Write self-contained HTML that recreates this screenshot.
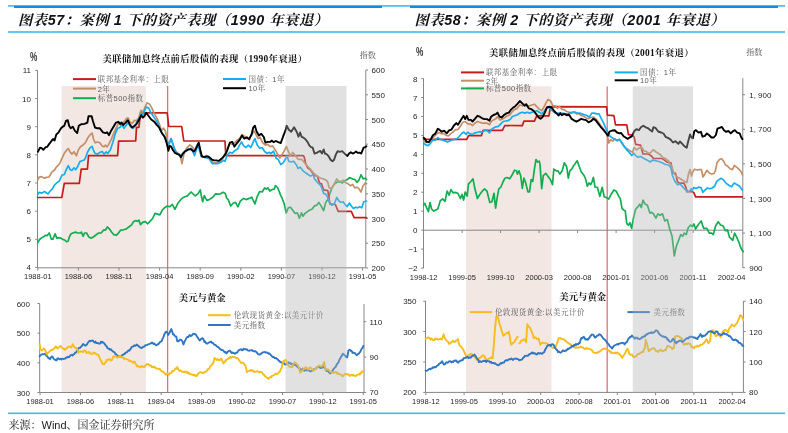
<!DOCTYPE html>
<html><head><meta charset="utf-8"><title>案例资产表现</title>
<style>html,body{margin:0;padding:0;background:#fff;}body{width:788px;height:433px;overflow:hidden;}svg{display:block;}</style>
</head><body>
<svg width="788" height="433" viewBox="0 0 788 433">
<rect x="0" y="0" width="788" height="433" fill="#FFFFFF"/>
<rect x="8" y="5.1" width="777" height="1.6" fill="#3DB8F2"/>
<rect x="14" y="5.9" width="368" height="2.1" fill="#0B8FE2"/>
<rect x="410" y="5.9" width="368" height="2.1" fill="#0B8FE2"/>
<rect x="8" y="31.2" width="777" height="1.6" fill="#3DB8F2"/>
<rect x="8" y="412.5" width="777" height="1.6" fill="#3DB8F2"/>
<text x="18" y="24.6" style="font-family:'Liberation Sans','Noto Serif CJK SC',serif;font-weight:bold;font-style:italic;font-size:14.3px;letter-spacing:0.55px" fill="#111">图表57：案例 1 下的资产表现（1990 年衰退）</text>
<text x="414.5" y="24.6" style="font-family:'Liberation Sans','Noto Serif CJK SC',serif;font-weight:bold;font-style:italic;font-size:14.3px;letter-spacing:0.55px" fill="#111">图表58：案例 2 下的资产表现（2001 年衰退）</text>
<text x="8.5" y="429.3" style="font-family:'Liberation Sans','Noto Serif CJK SC',serif;font-size:11px" fill="#222">来源：Wind、国金证券研究所</text>
<rect x="61.5" y="86" width="84.3" height="306.5" fill="#F2E7E2"/>
<rect x="466" y="86.3" width="85.5" height="306.1" fill="#F2E7E2"/>
<line x1="167.6" y1="86" x2="167.6" y2="392.5" stroke="#E0707C" stroke-width="1.3"/>
<line x1="607.2" y1="86.4" x2="607.2" y2="392.4" stroke="#E0707C" stroke-width="1.3"/>
<line x1="37.5" y1="70.2" x2="37.5" y2="267.8" stroke="#868686" stroke-width="1"/>
<line x1="35.2" y1="70.4" x2="37.5" y2="70.4" stroke="#868686" stroke-width="1"/>
<text x="31" y="73.4" text-anchor="end" style="font-family:'Liberation Sans',sans-serif;font-size:8px" fill="#262626">11</text>
<line x1="35.2" y1="98.6" x2="37.5" y2="98.6" stroke="#868686" stroke-width="1"/>
<text x="31" y="101.55000000000001" text-anchor="end" style="font-family:'Liberation Sans',sans-serif;font-size:8px" fill="#262626">10</text>
<line x1="35.2" y1="126.7" x2="37.5" y2="126.7" stroke="#868686" stroke-width="1"/>
<text x="31" y="129.7" text-anchor="end" style="font-family:'Liberation Sans',sans-serif;font-size:8px" fill="#262626">9</text>
<line x1="35.2" y1="154.8" x2="37.5" y2="154.8" stroke="#868686" stroke-width="1"/>
<text x="31" y="157.85" text-anchor="end" style="font-family:'Liberation Sans',sans-serif;font-size:8px" fill="#262626">8</text>
<line x1="35.2" y1="183.0" x2="37.5" y2="183.0" stroke="#868686" stroke-width="1"/>
<text x="31" y="186.0" text-anchor="end" style="font-family:'Liberation Sans',sans-serif;font-size:8px" fill="#262626">7</text>
<line x1="35.2" y1="211.2" x2="37.5" y2="211.2" stroke="#868686" stroke-width="1"/>
<text x="31" y="214.15" text-anchor="end" style="font-family:'Liberation Sans',sans-serif;font-size:8px" fill="#262626">6</text>
<line x1="35.2" y1="239.3" x2="37.5" y2="239.3" stroke="#868686" stroke-width="1"/>
<text x="31" y="242.29999999999998" text-anchor="end" style="font-family:'Liberation Sans',sans-serif;font-size:8px" fill="#262626">5</text>
<line x1="35.2" y1="267.4" x2="37.5" y2="267.4" stroke="#868686" stroke-width="1"/>
<text x="31" y="270.45" text-anchor="end" style="font-family:'Liberation Sans',sans-serif;font-size:8px" fill="#262626">4</text>
<line x1="365.8" y1="70" x2="365.8" y2="268" stroke="#868686" stroke-width="1"/>
<line x1="365.8" y1="70.0" x2="368" y2="70.0" stroke="#868686" stroke-width="1"/>
<text x="371.5" y="73.0" text-anchor="start" style="font-family:'Liberation Sans',sans-serif;font-size:8px" fill="#262626">600</text>
<line x1="365.8" y1="94.8" x2="368" y2="94.8" stroke="#868686" stroke-width="1"/>
<text x="371.5" y="97.75" text-anchor="start" style="font-family:'Liberation Sans',sans-serif;font-size:8px" fill="#262626">550</text>
<line x1="365.8" y1="119.5" x2="368" y2="119.5" stroke="#868686" stroke-width="1"/>
<text x="371.5" y="122.5" text-anchor="start" style="font-family:'Liberation Sans',sans-serif;font-size:8px" fill="#262626">500</text>
<line x1="365.8" y1="144.2" x2="368" y2="144.2" stroke="#868686" stroke-width="1"/>
<text x="371.5" y="147.25" text-anchor="start" style="font-family:'Liberation Sans',sans-serif;font-size:8px" fill="#262626">450</text>
<line x1="365.8" y1="169.0" x2="368" y2="169.0" stroke="#868686" stroke-width="1"/>
<text x="371.5" y="172.0" text-anchor="start" style="font-family:'Liberation Sans',sans-serif;font-size:8px" fill="#262626">400</text>
<line x1="365.8" y1="193.8" x2="368" y2="193.8" stroke="#868686" stroke-width="1"/>
<text x="371.5" y="196.75" text-anchor="start" style="font-family:'Liberation Sans',sans-serif;font-size:8px" fill="#262626">350</text>
<line x1="365.8" y1="218.5" x2="368" y2="218.5" stroke="#868686" stroke-width="1"/>
<text x="371.5" y="221.5" text-anchor="start" style="font-family:'Liberation Sans',sans-serif;font-size:8px" fill="#262626">300</text>
<line x1="365.8" y1="243.2" x2="368" y2="243.2" stroke="#868686" stroke-width="1"/>
<text x="371.5" y="246.25" text-anchor="start" style="font-family:'Liberation Sans',sans-serif;font-size:8px" fill="#262626">250</text>
<line x1="365.8" y1="268.0" x2="368" y2="268.0" stroke="#868686" stroke-width="1"/>
<text x="371.5" y="271.0" text-anchor="start" style="font-family:'Liberation Sans',sans-serif;font-size:8px" fill="#262626">200</text>
<line x1="37.5" y1="267.8" x2="365.8" y2="267.8" stroke="#868686" stroke-width="1"/>
<line x1="37.8" y1="267.8" x2="37.8" y2="270.6" stroke="#868686" stroke-width="1"/>
<text x="37.8" y="279.0" text-anchor="middle" style="font-family:'Liberation Sans',sans-serif;font-size:7.5px" fill="#262626">1988-01</text>
<line x1="78.4" y1="267.8" x2="78.4" y2="270.6" stroke="#868686" stroke-width="1"/>
<text x="78.4" y="279.0" text-anchor="middle" style="font-family:'Liberation Sans',sans-serif;font-size:7.5px" fill="#262626">1988-06</text>
<line x1="119.0" y1="267.8" x2="119.0" y2="270.6" stroke="#868686" stroke-width="1"/>
<text x="119.0" y="279.0" text-anchor="middle" style="font-family:'Liberation Sans',sans-serif;font-size:7.5px" fill="#262626">1988-11</text>
<line x1="159.6" y1="267.8" x2="159.6" y2="270.6" stroke="#868686" stroke-width="1"/>
<text x="159.6" y="279.0" text-anchor="middle" style="font-family:'Liberation Sans',sans-serif;font-size:7.5px" fill="#262626">1989-04</text>
<line x1="200.2" y1="267.8" x2="200.2" y2="270.6" stroke="#868686" stroke-width="1"/>
<text x="200.2" y="279.0" text-anchor="middle" style="font-family:'Liberation Sans',sans-serif;font-size:7.5px" fill="#262626">1989-09</text>
<line x1="240.8" y1="267.8" x2="240.8" y2="270.6" stroke="#868686" stroke-width="1"/>
<text x="240.8" y="279.0" text-anchor="middle" style="font-family:'Liberation Sans',sans-serif;font-size:7.5px" fill="#262626">1990-02</text>
<line x1="281.4" y1="267.8" x2="281.4" y2="270.6" stroke="#868686" stroke-width="1"/>
<text x="281.4" y="279.0" text-anchor="middle" style="font-family:'Liberation Sans',sans-serif;font-size:7.5px" fill="#262626">1990-07</text>
<line x1="322.0" y1="267.8" x2="322.0" y2="270.6" stroke="#868686" stroke-width="1"/>
<text x="322.0" y="279.0" text-anchor="middle" style="font-family:'Liberation Sans',sans-serif;font-size:7.5px" fill="#262626">1990-12</text>
<line x1="362.6" y1="267.8" x2="362.6" y2="270.6" stroke="#868686" stroke-width="1"/>
<text x="362.6" y="279.0" text-anchor="middle" style="font-family:'Liberation Sans',sans-serif;font-size:7.5px" fill="#262626">1991-05</text>
<text transform="translate(30,61.3) scale(0.66,1)" style="font-family:'Liberation Sans',sans-serif;font-weight:bold;font-size:12.5px" fill="#3a3a3a">%</text>
<text x="359.8" y="57.8" text-anchor="start" style="font-family:'Liberation Sans','Noto Serif CJK SC',serif;font-size:8px" fill="#555">指数</text>
<text x="205" y="61.8" text-anchor="middle" style="font-family:'Liberation Serif','Noto Serif CJK SC',serif;font-weight:bold;font-size:9.4px" fill="#111" letter-spacing="0.35">美联储加息终点前后股债的表现（1990年衰退）</text>
<line x1="73" y1="79.1" x2="96" y2="79.1" stroke="#C81C1C" stroke-width="2"/>
<line x1="73" y1="88.6" x2="96" y2="88.6" stroke="#C48F68" stroke-width="2"/>
<line x1="73" y1="98.2" x2="96" y2="98.2" stroke="#10AE50" stroke-width="2"/>
<line x1="223" y1="79" x2="246" y2="79" stroke="#14AEEF" stroke-width="2"/>
<line x1="223" y1="88.2" x2="246" y2="88.2" stroke="#000000" stroke-width="2"/>
<text x="97.7" y="82" text-anchor="start" style="font-family:'Liberation Sans','Noto Serif CJK SC',serif;font-size:7.5px" fill="#5a5a5a" letter-spacing="0.45">联邦基金利率：上限</text>
<text x="97.7" y="91.5" text-anchor="start" style="font-family:'Liberation Sans','Noto Serif CJK SC',serif;font-size:7.5px" fill="#5a5a5a" letter-spacing="0.45">2年</text>
<text x="97.7" y="101.1" text-anchor="start" style="font-family:'Liberation Sans','Noto Serif CJK SC',serif;font-size:7.5px" fill="#5a5a5a" letter-spacing="0.45">标普500指数</text>
<text x="248.5" y="81.9" text-anchor="start" style="font-family:'Liberation Sans','Noto Serif CJK SC',serif;font-size:7.5px" fill="#5a5a5a" letter-spacing="0.45">国债：1年</text>
<text x="248.5" y="91.1" text-anchor="start" style="font-family:'Liberation Sans','Noto Serif CJK SC',serif;font-size:7.5px" fill="#5a5a5a" letter-spacing="0.45">10年</text>
<line x1="39.7" y1="303.5" x2="39.7" y2="392.5" stroke="#868686" stroke-width="1"/>
<line x1="37.4" y1="303.5" x2="39.7" y2="303.5" stroke="#868686" stroke-width="1"/>
<text x="30" y="306.5" text-anchor="end" style="font-family:'Liberation Sans',sans-serif;font-size:8px" fill="#262626">600</text>
<line x1="37.4" y1="333.2" x2="39.7" y2="333.2" stroke="#868686" stroke-width="1"/>
<text x="30" y="336.17" text-anchor="end" style="font-family:'Liberation Sans',sans-serif;font-size:8px" fill="#262626">500</text>
<line x1="37.4" y1="362.8" x2="39.7" y2="362.8" stroke="#868686" stroke-width="1"/>
<text x="30" y="365.84000000000003" text-anchor="end" style="font-family:'Liberation Sans',sans-serif;font-size:8px" fill="#262626">400</text>
<line x1="37.4" y1="392.5" x2="39.7" y2="392.5" stroke="#868686" stroke-width="1"/>
<text x="30" y="395.51" text-anchor="end" style="font-family:'Liberation Sans',sans-serif;font-size:8px" fill="#262626">300</text>
<line x1="364" y1="304" x2="364" y2="392.5" stroke="#868686" stroke-width="1"/>
<line x1="364" y1="321.7" x2="366.3" y2="321.7" stroke="#868686" stroke-width="1"/>
<text x="369.5" y="324.7" text-anchor="start" style="font-family:'Liberation Sans',sans-serif;font-size:8px" fill="#262626">110</text>
<line x1="364" y1="357.1" x2="366.3" y2="357.1" stroke="#868686" stroke-width="1"/>
<text x="369.5" y="360.05" text-anchor="start" style="font-family:'Liberation Sans',sans-serif;font-size:8px" fill="#262626">90</text>
<line x1="364" y1="392.4" x2="366.3" y2="392.4" stroke="#868686" stroke-width="1"/>
<text x="369.5" y="395.4" text-anchor="start" style="font-family:'Liberation Sans',sans-serif;font-size:8px" fill="#262626">70</text>
<line x1="39.7" y1="392.5" x2="364" y2="392.5" stroke="#868686" stroke-width="1"/>
<line x1="40.0" y1="392.5" x2="40.0" y2="395.2" stroke="#868686" stroke-width="1"/>
<text x="40.0" y="403.9" text-anchor="middle" style="font-family:'Liberation Sans',sans-serif;font-size:7.5px" fill="#262626">1988-01</text>
<line x1="80.4" y1="392.5" x2="80.4" y2="395.2" stroke="#868686" stroke-width="1"/>
<text x="80.4" y="403.9" text-anchor="middle" style="font-family:'Liberation Sans',sans-serif;font-size:7.5px" fill="#262626">1988-06</text>
<line x1="120.8" y1="392.5" x2="120.8" y2="395.2" stroke="#868686" stroke-width="1"/>
<text x="120.8" y="403.9" text-anchor="middle" style="font-family:'Liberation Sans',sans-serif;font-size:7.5px" fill="#262626">1988-11</text>
<line x1="161.2" y1="392.5" x2="161.2" y2="395.2" stroke="#868686" stroke-width="1"/>
<text x="161.2" y="403.9" text-anchor="middle" style="font-family:'Liberation Sans',sans-serif;font-size:7.5px" fill="#262626">1989-04</text>
<line x1="201.6" y1="392.5" x2="201.6" y2="395.2" stroke="#868686" stroke-width="1"/>
<text x="201.6" y="403.9" text-anchor="middle" style="font-family:'Liberation Sans',sans-serif;font-size:7.5px" fill="#262626">1989-09</text>
<line x1="242.0" y1="392.5" x2="242.0" y2="395.2" stroke="#868686" stroke-width="1"/>
<text x="242.0" y="403.9" text-anchor="middle" style="font-family:'Liberation Sans',sans-serif;font-size:7.5px" fill="#262626">1990-02</text>
<line x1="282.4" y1="392.5" x2="282.4" y2="395.2" stroke="#868686" stroke-width="1"/>
<text x="282.4" y="403.9" text-anchor="middle" style="font-family:'Liberation Sans',sans-serif;font-size:7.5px" fill="#262626">1990-07</text>
<line x1="322.8" y1="392.5" x2="322.8" y2="395.2" stroke="#868686" stroke-width="1"/>
<text x="322.8" y="403.9" text-anchor="middle" style="font-family:'Liberation Sans',sans-serif;font-size:7.5px" fill="#262626">1990-12</text>
<line x1="363.2" y1="392.5" x2="363.2" y2="395.2" stroke="#868686" stroke-width="1"/>
<text x="363.2" y="403.9" text-anchor="middle" style="font-family:'Liberation Sans',sans-serif;font-size:7.5px" fill="#262626">1991-05</text>
<text x="202.2" y="301.2" text-anchor="middle" style="font-family:'Liberation Serif','Noto Serif CJK SC',serif;font-weight:bold;font-size:9.4px" fill="#111">美元与黄金</text>
<line x1="208" y1="315.2" x2="230.7" y2="315.2" stroke="#F7BC1E" stroke-width="2"/>
<line x1="208" y1="325" x2="230.7" y2="325" stroke="#2F76C4" stroke-width="2"/>
<text x="233.7" y="318" text-anchor="start" style="font-family:'Liberation Sans','Noto Serif CJK SC',serif;font-size:7.5px" fill="#5a5a5a" letter-spacing="0.45">伦敦现货黄金:以美元计价</text>
<text x="233.7" y="327.8" text-anchor="start" style="font-family:'Liberation Sans','Noto Serif CJK SC',serif;font-size:7.5px" fill="#5a5a5a" letter-spacing="0.45">美元指数</text>
<line x1="423.5" y1="78.4" x2="423.5" y2="268.4" stroke="#868686" stroke-width="1"/>
<line x1="421.2" y1="78.6" x2="423.5" y2="78.6" stroke="#868686" stroke-width="1"/>
<text x="417.5" y="81.6" text-anchor="end" style="font-family:'Liberation Sans',sans-serif;font-size:8px" fill="#262626">8</text>
<line x1="421.2" y1="97.5" x2="423.5" y2="97.5" stroke="#868686" stroke-width="1"/>
<text x="417.5" y="100.53999999999999" text-anchor="end" style="font-family:'Liberation Sans',sans-serif;font-size:8px" fill="#262626">7</text>
<line x1="421.2" y1="116.5" x2="423.5" y2="116.5" stroke="#868686" stroke-width="1"/>
<text x="417.5" y="119.47999999999999" text-anchor="end" style="font-family:'Liberation Sans',sans-serif;font-size:8px" fill="#262626">6</text>
<line x1="421.2" y1="135.4" x2="423.5" y2="135.4" stroke="#868686" stroke-width="1"/>
<text x="417.5" y="138.42000000000002" text-anchor="end" style="font-family:'Liberation Sans',sans-serif;font-size:8px" fill="#262626">5</text>
<line x1="421.2" y1="154.4" x2="423.5" y2="154.4" stroke="#868686" stroke-width="1"/>
<text x="417.5" y="157.36" text-anchor="end" style="font-family:'Liberation Sans',sans-serif;font-size:8px" fill="#262626">4</text>
<line x1="421.2" y1="173.3" x2="423.5" y2="173.3" stroke="#868686" stroke-width="1"/>
<text x="417.5" y="176.3" text-anchor="end" style="font-family:'Liberation Sans',sans-serif;font-size:8px" fill="#262626">3</text>
<line x1="421.2" y1="192.2" x2="423.5" y2="192.2" stroke="#868686" stroke-width="1"/>
<text x="417.5" y="195.24" text-anchor="end" style="font-family:'Liberation Sans',sans-serif;font-size:8px" fill="#262626">2</text>
<line x1="421.2" y1="211.2" x2="423.5" y2="211.2" stroke="#868686" stroke-width="1"/>
<text x="417.5" y="214.18" text-anchor="end" style="font-family:'Liberation Sans',sans-serif;font-size:8px" fill="#262626">1</text>
<line x1="421.2" y1="230.1" x2="423.5" y2="230.1" stroke="#868686" stroke-width="1"/>
<text x="417.5" y="233.12" text-anchor="end" style="font-family:'Liberation Sans',sans-serif;font-size:8px" fill="#262626">0</text>
<line x1="421.2" y1="249.1" x2="423.5" y2="249.1" stroke="#868686" stroke-width="1"/>
<text x="417.5" y="252.06" text-anchor="end" style="font-family:'Liberation Sans',sans-serif;font-size:8px" fill="#262626">−1</text>
<line x1="421.2" y1="268.0" x2="423.5" y2="268.0" stroke="#868686" stroke-width="1"/>
<text x="417.5" y="271.0" text-anchor="end" style="font-family:'Liberation Sans',sans-serif;font-size:8px" fill="#262626">−2</text>
<line x1="742.8" y1="78.2" x2="742.8" y2="267.8" stroke="#868686" stroke-width="1"/>
<line x1="742.8" y1="94.7" x2="745" y2="94.7" stroke="#868686" stroke-width="1"/>
<text x="749.2" y="97.7" text-anchor="start" style="font-family:'Liberation Sans',sans-serif;font-size:8px" fill="#262626">1, 900</text>
<line x1="742.8" y1="129.3" x2="745" y2="129.3" stroke="#868686" stroke-width="1"/>
<text x="749.2" y="132.3" text-anchor="start" style="font-family:'Liberation Sans',sans-serif;font-size:8px" fill="#262626">1, 700</text>
<line x1="742.8" y1="163.9" x2="745" y2="163.9" stroke="#868686" stroke-width="1"/>
<text x="749.2" y="166.9" text-anchor="start" style="font-family:'Liberation Sans',sans-serif;font-size:8px" fill="#262626">1, 500</text>
<line x1="742.8" y1="198.5" x2="745" y2="198.5" stroke="#868686" stroke-width="1"/>
<text x="749.2" y="201.5" text-anchor="start" style="font-family:'Liberation Sans',sans-serif;font-size:8px" fill="#262626">1, 300</text>
<line x1="742.8" y1="233.1" x2="745" y2="233.1" stroke="#868686" stroke-width="1"/>
<text x="749.2" y="236.10000000000002" text-anchor="start" style="font-family:'Liberation Sans',sans-serif;font-size:8px" fill="#262626">1, 100</text>
<line x1="742.8" y1="267.7" x2="745" y2="267.7" stroke="#868686" stroke-width="1"/>
<text x="749.2" y="270.7" text-anchor="start" style="font-family:'Liberation Sans',sans-serif;font-size:8px" fill="#262626">900</text>
<line x1="423.5" y1="230.2" x2="742.8" y2="230.2" stroke="#868686" stroke-width="1"/>
<line x1="423.6" y1="230.2" x2="423.6" y2="233" stroke="#868686" stroke-width="1"/>
<text x="423.6" y="279.8" text-anchor="middle" style="font-family:'Liberation Sans',sans-serif;font-size:7.5px" fill="#262626">1998-12</text>
<line x1="462.1" y1="230.2" x2="462.1" y2="233" stroke="#868686" stroke-width="1"/>
<text x="462.1" y="279.8" text-anchor="middle" style="font-family:'Liberation Sans',sans-serif;font-size:7.5px" fill="#262626">1999-05</text>
<line x1="500.6" y1="230.2" x2="500.6" y2="233" stroke="#868686" stroke-width="1"/>
<text x="500.6" y="279.8" text-anchor="middle" style="font-family:'Liberation Sans',sans-serif;font-size:7.5px" fill="#262626">1999-10</text>
<line x1="539.1" y1="230.2" x2="539.1" y2="233" stroke="#868686" stroke-width="1"/>
<text x="539.1" y="279.8" text-anchor="middle" style="font-family:'Liberation Sans',sans-serif;font-size:7.5px" fill="#262626">2000-03</text>
<line x1="577.6" y1="230.2" x2="577.6" y2="233" stroke="#868686" stroke-width="1"/>
<text x="577.6" y="279.8" text-anchor="middle" style="font-family:'Liberation Sans',sans-serif;font-size:7.5px" fill="#262626">2000-08</text>
<line x1="616.1" y1="230.2" x2="616.1" y2="233" stroke="#868686" stroke-width="1"/>
<text x="616.1" y="279.8" text-anchor="middle" style="font-family:'Liberation Sans',sans-serif;font-size:7.5px" fill="#262626">2001-01</text>
<line x1="654.6" y1="230.2" x2="654.6" y2="233" stroke="#868686" stroke-width="1"/>
<text x="654.6" y="279.8" text-anchor="middle" style="font-family:'Liberation Sans',sans-serif;font-size:7.5px" fill="#262626">2001-06</text>
<line x1="693.1" y1="230.2" x2="693.1" y2="233" stroke="#868686" stroke-width="1"/>
<text x="693.1" y="279.8" text-anchor="middle" style="font-family:'Liberation Sans',sans-serif;font-size:7.5px" fill="#262626">2001-11</text>
<line x1="731.6" y1="230.2" x2="731.6" y2="233" stroke="#868686" stroke-width="1"/>
<text x="731.6" y="279.8" text-anchor="middle" style="font-family:'Liberation Sans',sans-serif;font-size:7.5px" fill="#262626">2002-04</text>
<text transform="translate(416,55.6) scale(0.66,1)" style="font-family:'Liberation Sans',sans-serif;font-weight:bold;font-size:12.5px" fill="#3a3a3a">%</text>
<text x="746.3" y="55" text-anchor="start" style="font-family:'Liberation Sans','Noto Serif CJK SC',serif;font-size:8px" fill="#555">指数</text>
<text x="591.5" y="56" text-anchor="middle" style="font-family:'Liberation Serif','Noto Serif CJK SC',serif;font-weight:bold;font-size:9.4px" fill="#111" letter-spacing="0.35">美联储加息终点前后股债的表现（2001年衰退）</text>
<line x1="461" y1="72.4" x2="484" y2="72.4" stroke="#C81C1C" stroke-width="2"/>
<line x1="461" y1="80.7" x2="484" y2="80.7" stroke="#C48F68" stroke-width="2"/>
<line x1="461" y1="88.4" x2="484" y2="88.4" stroke="#10AE50" stroke-width="2"/>
<line x1="614.7" y1="72.4" x2="637.8" y2="72.4" stroke="#14AEEF" stroke-width="2"/>
<line x1="614.7" y1="80.3" x2="637.8" y2="80.3" stroke="#000000" stroke-width="2"/>
<text x="485.9" y="75.3" text-anchor="start" style="font-family:'Liberation Sans','Noto Serif CJK SC',serif;font-size:7.5px" fill="#5a5a5a" letter-spacing="0.45">联邦基金利率：上限</text>
<text x="485.9" y="83.6" text-anchor="start" style="font-family:'Liberation Sans','Noto Serif CJK SC',serif;font-size:7.5px" fill="#5a5a5a" letter-spacing="0.45">2年</text>
<text x="485.9" y="91.3" text-anchor="start" style="font-family:'Liberation Sans','Noto Serif CJK SC',serif;font-size:7.5px" fill="#5a5a5a" letter-spacing="0.45">标普500指数</text>
<text x="640" y="75.3" text-anchor="start" style="font-family:'Liberation Sans','Noto Serif CJK SC',serif;font-size:7.5px" fill="#5a5a5a" letter-spacing="0.45">国债：1年</text>
<text x="640" y="83.2" text-anchor="start" style="font-family:'Liberation Sans','Noto Serif CJK SC',serif;font-size:7.5px" fill="#5a5a5a" letter-spacing="0.45">10年</text>
<line x1="425.5" y1="301" x2="425.5" y2="392.4" stroke="#868686" stroke-width="1"/>
<line x1="423.2" y1="301.2" x2="425.5" y2="301.2" stroke="#868686" stroke-width="1"/>
<text x="416.5" y="304.2" text-anchor="end" style="font-family:'Liberation Sans',sans-serif;font-size:8px" fill="#262626">350</text>
<line x1="423.2" y1="331.6" x2="425.5" y2="331.6" stroke="#868686" stroke-width="1"/>
<text x="416.5" y="334.59999999999997" text-anchor="end" style="font-family:'Liberation Sans',sans-serif;font-size:8px" fill="#262626">300</text>
<line x1="423.2" y1="362.0" x2="425.5" y2="362.0" stroke="#868686" stroke-width="1"/>
<text x="416.5" y="365.0" text-anchor="end" style="font-family:'Liberation Sans',sans-serif;font-size:8px" fill="#262626">250</text>
<line x1="423.2" y1="392.4" x2="425.5" y2="392.4" stroke="#868686" stroke-width="1"/>
<text x="416.5" y="395.4" text-anchor="end" style="font-family:'Liberation Sans',sans-serif;font-size:8px" fill="#262626">200</text>
<line x1="743.4" y1="301" x2="743.4" y2="392.4" stroke="#868686" stroke-width="1"/>
<line x1="743.4" y1="301.2" x2="745.7" y2="301.2" stroke="#868686" stroke-width="1"/>
<text x="749" y="304.2" text-anchor="start" style="font-family:'Liberation Sans',sans-serif;font-size:8px" fill="#262626">140</text>
<line x1="743.4" y1="331.6" x2="745.7" y2="331.6" stroke="#868686" stroke-width="1"/>
<text x="749" y="334.59999999999997" text-anchor="start" style="font-family:'Liberation Sans',sans-serif;font-size:8px" fill="#262626">120</text>
<line x1="743.4" y1="362.0" x2="745.7" y2="362.0" stroke="#868686" stroke-width="1"/>
<text x="749" y="365.0" text-anchor="start" style="font-family:'Liberation Sans',sans-serif;font-size:8px" fill="#262626">100</text>
<line x1="743.4" y1="392.4" x2="745.7" y2="392.4" stroke="#868686" stroke-width="1"/>
<text x="749" y="395.4" text-anchor="start" style="font-family:'Liberation Sans',sans-serif;font-size:8px" fill="#262626">80</text>
<line x1="425.5" y1="392.4" x2="743.4" y2="392.4" stroke="#868686" stroke-width="1"/>
<line x1="425.8" y1="392.4" x2="425.8" y2="395.1" stroke="#868686" stroke-width="1"/>
<text x="425.8" y="403.9" text-anchor="middle" style="font-family:'Liberation Sans',sans-serif;font-size:7.5px" fill="#262626">1998-12</text>
<line x1="464.1" y1="392.4" x2="464.1" y2="395.1" stroke="#868686" stroke-width="1"/>
<text x="464.1" y="403.9" text-anchor="middle" style="font-family:'Liberation Sans',sans-serif;font-size:7.5px" fill="#262626">1999-05</text>
<line x1="502.4" y1="392.4" x2="502.4" y2="395.1" stroke="#868686" stroke-width="1"/>
<text x="502.4" y="403.9" text-anchor="middle" style="font-family:'Liberation Sans',sans-serif;font-size:7.5px" fill="#262626">1999-10</text>
<line x1="540.7" y1="392.4" x2="540.7" y2="395.1" stroke="#868686" stroke-width="1"/>
<text x="540.7" y="403.9" text-anchor="middle" style="font-family:'Liberation Sans',sans-serif;font-size:7.5px" fill="#262626">2000-03</text>
<line x1="579.0" y1="392.4" x2="579.0" y2="395.1" stroke="#868686" stroke-width="1"/>
<text x="579.0" y="403.9" text-anchor="middle" style="font-family:'Liberation Sans',sans-serif;font-size:7.5px" fill="#262626">2000-08</text>
<line x1="617.3" y1="392.4" x2="617.3" y2="395.1" stroke="#868686" stroke-width="1"/>
<text x="617.3" y="403.9" text-anchor="middle" style="font-family:'Liberation Sans',sans-serif;font-size:7.5px" fill="#262626">2001-01</text>
<line x1="655.6" y1="392.4" x2="655.6" y2="395.1" stroke="#868686" stroke-width="1"/>
<text x="655.6" y="403.9" text-anchor="middle" style="font-family:'Liberation Sans',sans-serif;font-size:7.5px" fill="#262626">2001-06</text>
<line x1="693.9" y1="392.4" x2="693.9" y2="395.1" stroke="#868686" stroke-width="1"/>
<text x="693.9" y="403.9" text-anchor="middle" style="font-family:'Liberation Sans',sans-serif;font-size:7.5px" fill="#262626">2001-11</text>
<line x1="732.2" y1="392.4" x2="732.2" y2="395.1" stroke="#868686" stroke-width="1"/>
<text x="732.2" y="403.9" text-anchor="middle" style="font-family:'Liberation Sans',sans-serif;font-size:7.5px" fill="#262626">2002-04</text>
<text x="582.8" y="300.1" text-anchor="middle" style="font-family:'Liberation Serif','Noto Serif CJK SC',serif;font-weight:bold;font-size:9.4px" fill="#111">美元与黄金</text>
<line x1="469.8" y1="312.1" x2="492.1" y2="312.1" stroke="#F7BC1E" stroke-width="2"/>
<line x1="627.5" y1="312.1" x2="649.8" y2="312.1" stroke="#2F76C4" stroke-width="2"/>
<text x="494.9" y="315" text-anchor="start" style="font-family:'Liberation Sans','Noto Serif CJK SC',serif;font-size:7.5px" fill="#5a5a5a" letter-spacing="0.45">伦敦现货黄金:以美元计价</text>
<text x="653.5" y="315" text-anchor="start" style="font-family:'Liberation Sans','Noto Serif CJK SC',serif;font-size:7.5px" fill="#5a5a5a" letter-spacing="0.45">美元指数</text>
<polyline points="37.7,242.9 39.5,239.5 42.2,237.4 44.3,236.3 45.7,235.3 47.1,235.7 49.2,233.0 50.1,235.3 51.2,239.1 52.9,239.1 55.1,233.9 56.8,238.1 58.9,237.7 60.9,238.1 63.0,239.5 65.1,240.2 66.5,241.8 68.1,241.3 69.2,237.4 70.6,234.3 72.7,233.0 75.5,232.1 77.6,233.0 80.3,233.0 81.4,232.1 83.1,236.3 84.5,233.0 86.6,233.0 88.6,236.7 90.7,238.1 92.8,237.4 95.6,235.3 98.3,233.2 101.1,233.0 103.9,229.8 105.3,230.2 107.3,227.0 109.4,228.8 111.5,231.9 113.6,234.6 116.3,235.3 118.4,233.2 120.5,230.2 123.3,229.8 126.0,229.1 128.8,227.0 131.6,224.9 133.6,221.5 136.0,220.5 137.3,221.4 138.9,220.1 140.5,224.6 142.9,222.2 145.3,221.7 147.8,223.8 150.2,221.1 152.6,218.5 155.0,213.3 157.5,214.1 159.9,214.9 162.3,210.1 164.7,207.7 167.2,206.0 169.6,206.8 172.3,204.4 174.9,209.3 177.7,203.6 180.1,200.4 182.5,198.0 184.9,196.8 187.4,195.9 189.0,194.2 191.1,192.0 193.0,193.9 195.4,195.9 197.9,193.9 200.3,189.9 201.4,196.3 202.7,201.7 204.3,195.5 206.7,200.4 209.2,199.6 212.4,197.5 215.6,193.9 218.0,194.2 220.5,193.9 222.9,192.3 225.3,193.6 226.6,198.0 228.2,199.6 230.7,206.0 233.1,203.3 235.5,202.3 237.9,206.8 240.3,201.2 243.6,198.4 246.0,199.6 249.2,198.4 251.7,197.2 254.9,203.9 257.3,196.3 259.7,191.5 262.2,192.0 264.6,187.8 266.2,189.1 267.8,187.8 269.9,191.0 272.2,189.4 274.3,189.1 275.4,185.5 277.5,187.5 279.9,193.1 280.0,194.1 282.1,198.2 284.2,203.8 286.2,212.8 288.3,207.9 290.4,207.2 292.5,210.0 295.2,213.5 297.3,212.8 299.4,218.3 301.5,212.8 302.9,216.2 304.9,213.5 307.7,211.4 309.8,210.0 311.9,209.3 314.6,205.9 316.7,205.2 318.8,202.4 321.5,206.6 323.6,210.7 325.7,202.4 327.8,199.6 329.9,193.4 331.9,187.9 334.0,184.4 336.8,182.3 339.6,181.6 342.3,183.0 344.4,180.9 347.2,179.5 349.9,177.5 352.0,178.9 354.8,179.5 356.9,182.3 358.9,180.2 361.0,174.7 363.1,178.9 365.2,178.2 366.6,179.5" fill="none" stroke="#10AE50" stroke-width="1.7" stroke-linejoin="round" stroke-linecap="round"/>
<polyline points="37.6,197.5 61.8,197.5 64.3,183.4 79.3,183.4 81.2,169.2 87.4,169.2 88.5,155.7 117.6,155.7 118.6,141.2 135.7,141.0 136.5,127.3 138.9,127.3 140.5,112.8 167.2,112.8 168.8,126.5 181.7,126.5 183.8,141.0 225.0,141.0 225.8,155.6 303.4,155.6 304.2,157.0 304.2,157.0 305.5,163.0 307.7,167.8 309.8,169.2 314.6,175.4 317.4,176.1 319.5,183.0 321.5,183.7 323.6,189.9 327.8,190.6 329.9,203.8 335.4,204.5 338.2,211.4 351.3,211.4 354.1,217.6 366.5,217.6" fill="none" stroke="#C81C1C" stroke-width="1.7" stroke-linejoin="round" stroke-linecap="round"/>
<polyline points="37.6,180.2 39.2,177.0 41.7,176.6 44.1,178.1 46.5,177.4 48.9,177.0 50.5,174.5 52.2,171.6 54.6,170.0 56.2,167.3 57.8,165.7 59.9,163.2 61.8,158.6 64.3,153.3 66.7,150.1 68.3,148.5 69.9,151.7 71.9,154.1 74.0,151.7 76.4,155.7 78.3,150.1 80.4,146.8 82.8,145.2 85.3,142.8 87.7,138.0 90.1,134.7 92.2,133.1 93.4,138.8 95.0,142.8 97.4,142.0 99.8,142.8 102.2,146.0 103.9,146.8 105.5,145.2 107.1,146.8 108.7,144.4 111.1,139.6 113.5,133.9 116.0,128.3 118.4,123.4 120.0,122.6 121.6,124.2 124.0,121.8 126.5,118.6 128.1,117.8 129.7,121.8 132.1,123.4 134.5,120.2 136.5,120.8 138.9,117.6 141.0,110.3 142.9,112.8 145.3,106.3 147.0,102.8 149.4,103.9 151.8,107.9 154.2,113.6 156.7,117.6 159.1,123.3 161.5,130.5 163.6,128.1 165.5,131.3 167.5,141.0 168.8,145.9 170.7,138.6 172.8,143.5 175.2,150.7 177.7,153.2 180.1,154.8 182.0,163.7 184.1,153.2 186.5,148.3 189.8,144.8 192.2,146.7 194.6,149.9 197.0,145.1 198.7,142.7 201.1,154.8 203.5,157.2 205.9,155.6 208.4,156.1 210.8,159.6 213.2,162.9 216.4,162.5 218.9,162.0 222.1,159.6 225.3,154.0 227.4,148.3 229.8,143.5 232.3,144.3 234.7,142.7 237.1,140.2 239.5,138.6 242.0,134.6 244.4,136.2 246.8,138.6 249.2,137.8 251.7,135.4 253.8,130.9 255.7,133.8 258.1,138.6 260.2,137.3 262.5,142.7 265.4,145.1 267.8,144.3 270.2,146.7 272.7,145.9 275.1,149.9 277.5,154.0 279.9,158.0 282.4,154.0 284.8,149.9 286.4,146.4 288.0,150.7 290.4,155.6 292.9,152.4 295.3,155.6 298.1,159.3 301.6,159.3 306.3,165.0 309.8,168.5 313.2,172.6 315.3,174.7 318.1,176.8 320.9,178.2 323.6,178.9 326.4,180.2 327.8,182.3 329.2,187.9 331.2,188.6 333.3,185.8 335.4,181.6 336.8,178.9 338.9,181.6 340.9,181.6 343.0,180.2 345.1,182.3 347.9,183.7 350.6,185.8 352.7,184.4 354.8,187.9 356.9,187.2 358.9,188.6 361.0,192.0 363.1,185.8 365.2,183.0 366.6,183.7" fill="none" stroke="#C48F68" stroke-width="1.7" stroke-linejoin="round" stroke-linecap="round"/>
<polyline points="37.6,194.7 39.2,192.3 41.7,193.1 43.3,192.3 44.9,191.5 46.5,193.1 48.1,193.9 49.7,191.5 52.2,189.1 54.6,185.0 57.0,182.6 59.4,181.0 61.8,175.3 64.3,174.5 65.9,170.5 68.3,165.7 70.2,169.7 71.9,170.5 74.0,167.8 75.6,169.7 77.7,166.5 79.9,161.6 82.0,160.8 84.1,160.0 85.3,158.2 87.7,151.7 90.1,147.7 92.2,146.5 93.4,150.1 95.0,153.3 97.4,154.1 99.8,152.5 102.2,151.4 103.9,154.1 106.3,152.0 107.9,153.3 110.3,150.1 112.7,142.8 115.2,133.9 117.6,128.3 120.0,127.5 121.6,124.2 124.0,128.3 126.5,125.0 128.1,122.6 130.5,126.7 132.9,128.3 135.4,125.8 136.5,122.5 139.7,117.6 141.3,113.6 142.9,114.4 146.2,107.1 148.6,107.9 151.0,112.8 154.2,117.6 157.5,122.5 160.7,131.3 163.9,135.4 166.3,140.2 168.8,144.3 171.2,138.6 173.6,146.7 176.8,154.0 180.1,155.6 181.7,156.4 184.9,151.5 188.2,149.1 191.4,148.3 194.6,155.6 197.9,144.3 201.1,156.4 204.3,157.2 209.2,158.8 212.4,163.7 217.2,163.7 220.5,162.5 223.7,160.4 225.0,161.2 227.4,154.8 229.8,152.4 232.3,153.2 234.7,150.7 237.6,149.1 239.5,145.1 241.5,141.9 243.6,145.9 246.0,147.5 248.4,145.1 250.8,147.5 253.3,141.9 254.9,138.6 257.3,145.1 259.7,148.3 262.2,147.5 264.6,151.5 267.0,153.2 269.4,152.4 271.0,153.5 273.5,151.2 275.9,158.0 278.3,159.6 280.7,164.5 283.2,162.9 285.6,158.8 287.2,156.4 288.8,161.2 291.2,162.0 293.7,161.2 296.1,164.5 296.6,165.0 298.0,168.5 300.1,167.1 302.2,169.8 304.2,171.9 306.3,173.3 308.4,174.7 310.5,176.1 313.2,174.7 314.6,178.9 316.7,181.6 318.8,183.7 320.9,185.8 322.2,189.2 323.6,193.4 325.7,194.1 327.1,196.2 328.5,199.6 329.9,203.8 331.9,205.2 334.0,204.5 336.8,197.5 338.9,201.0 340.9,202.4 343.0,201.7 345.1,204.5 347.2,206.6 349.3,203.1 351.3,205.9 353.4,208.6 355.5,207.2 357.6,207.9 359.6,206.6 361.7,207.9 363.8,201.7 366.6,201.0" fill="none" stroke="#14AEEF" stroke-width="1.7" stroke-linejoin="round" stroke-linecap="round"/>
<polyline points="37.9,151.7 40.0,147.7 41.7,148.1 43.3,149.8 45.7,147.2 47.3,146.8 48.9,144.4 51.3,141.2 53.0,139.1 54.6,140.4 56.2,134.7 58.6,132.3 61.0,128.3 62.7,126.7 64.3,125.8 65.9,121.0 67.8,120.2 69.1,125.8 70.7,128.3 72.8,126.7 74.8,130.7 77.2,133.1 78.8,125.8 81.2,124.2 84.5,123.9 87.4,122.6 88.5,116.2 91.7,116.2 92.9,121.0 95.0,127.5 97.4,128.3 99.8,128.3 103.0,132.3 105.5,133.1 107.1,132.3 109.0,135.2 111.1,130.7 113.5,126.7 116.0,122.6 118.4,121.8 120.0,123.9 121.6,122.6 123.2,125.0 125.7,122.6 127.8,120.2 129.7,124.2 132.1,127.5 134.5,125.8 136.5,124.1 138.9,120.0 141.3,115.2 142.9,117.6 144.5,116.0 146.2,112.8 148.6,116.0 151.0,119.2 154.2,121.7 156.7,124.9 159.1,127.3 162.3,133.8 164.7,137.0 166.8,143.5 168.4,150.7 169.6,145.9 171.2,146.7 172.8,149.9 175.2,153.2 177.7,154.0 179.3,154.8 180.9,157.2 182.5,154.0 184.9,151.5 188.2,149.6 190.6,149.1 193.8,151.5 195.4,149.9 198.7,142.7 200.3,149.9 201.9,156.4 204.3,157.2 206.7,156.4 209.2,157.2 211.6,159.3 214.0,160.4 216.4,160.4 218.9,160.9 221.3,158.8 223.7,156.4 226.0,153.0 227.4,149.9 229.8,142.7 232.3,141.9 234.4,146.7 236.6,143.5 239.5,140.2 242.0,135.4 244.1,138.6 246.8,137.3 249.2,139.4 251.7,133.8 253.3,127.3 254.9,125.7 256.5,131.3 258.9,135.4 261.3,133.8 263.8,137.0 265.4,142.7 267.8,141.9 270.2,141.9 271.9,140.6 273.5,142.2 275.9,141.0 278.3,142.2 280.7,143.1 283.2,136.2 285.6,130.2 286.7,125.7 288.8,129.7 291.2,131.8 294.1,127.3 296.9,132.2 298.5,136.7 300.1,132.5 301.7,137.0 302.9,137.3 305.2,139.0 307.5,141.9 309.3,145.4 311.0,147.1 312.7,147.7 314.5,153.5 316.8,152.9 318.5,151.8 320.2,150.9 322.0,153.5 323.7,149.4 324.9,153.5 326.6,154.1 328.3,155.8 330.6,159.8 332.4,161.3 334.1,159.8 335.8,154.6 337.6,151.2 339.9,151.8 342.2,151.2 343.9,152.9 345.7,154.6 347.4,156.0 349.1,153.5 350.8,152.3 352.6,153.5 354.3,152.9 356.0,151.4 357.8,152.9 359.5,152.7 361.2,153.5 362.4,150.6 363.6,147.7 365.3,147.1 366.4,146.3" fill="none" stroke="#000000" stroke-width="1.9" stroke-linejoin="round" stroke-linecap="round"/>
<polyline points="423.6,204.9 424.8,203.3 426.5,207.4 428.4,211.7 430.0,202.5 431.6,209.0 433.7,211.1 436.2,209.8 437.8,209.0 440.2,200.9 442.6,198.8 445.0,201.4 447.1,191.2 449.1,195.2 451.0,189.6 453.1,192.8 455.5,192.3 458.0,193.6 460.4,198.5 462.0,194.4 463.6,200.1 465.2,192.0 467.2,196.0 468.5,183.9 470.9,181.5 473.0,178.8 474.9,188.8 477.4,198.5 479.8,194.4 482.2,191.2 484.6,188.8 487.0,191.2 489.8,202.5 491.9,201.7 494.0,193.3 495.6,208.2 497.2,197.7 498.8,188.8 500.8,187.2 503.2,181.5 504.8,178.3 507.2,177.5 509.7,178.8 512.1,175.0 514.5,170.2 516.6,170.8 517.4,174.1 519.0,170.8 520.7,175.7 522.3,188.3 523.9,178.1 525.5,182.2 527.9,191.8 529.5,191.8 531.2,179.7 532.8,181.3 534.4,169.2 536.0,159.5 537.6,162.0 539.2,161.2 540.0,164.4 541.7,188.6 543.3,175.7 545.7,173.3 548.1,176.5 550.5,179.7 552.5,184.6 553.8,169.2 556.2,170.8 557.8,170.8 559.9,174.1 562.2,170.8 564.3,162.8 566.7,166.8 568.3,178.1 569.9,170.8 571.9,168.9 574.0,165.2 577.2,160.8 579.3,166.8 581.2,171.7 583.7,174.9 585.3,178.1 587.4,186.2 589.0,183.0 590.6,184.6 592.2,181.3 593.4,177.3 595.0,187.0 597.4,187.3 599.8,196.4 602.2,187.3 604.2,196.7 606.3,197.5 608.7,199.1 611.5,193.7 613.9,190.0 616.3,191.3 618.7,196.2 620.3,198.6 622.0,208.3 623.6,209.9 625.2,210.7 626.8,223.6 628.4,225.2 630.0,222.8 631.7,228.5 633.3,218.8 635.7,209.1 638.1,206.7 639.7,204.2 641.3,207.5 643.0,200.2 645.1,204.2 647.3,205.0 649.9,213.1 651.8,212.3 653.5,213.9 655.9,218.0 658.0,213.9 660.0,215.3 662.4,213.8 664.8,221.0 667.3,219.4 669.7,229.1 672.1,236.3 674.3,256.0 676.2,246.8 678.6,240.4 680.7,234.7 682.6,236.3 684.2,233.1 686.2,234.7 688.3,227.5 690.7,225.0 692.3,226.7 693.9,223.9 695.5,229.1 698.0,225.0 701.2,221.0 703.6,228.3 706.8,228.3 709.3,233.1 711.7,233.1 713.3,234.7 715.7,225.8 718.2,221.8 720.6,225.0 723.0,225.8 725.4,230.7 727.5,229.9 729.5,237.2 732.7,240.4 734.6,233.1 736.7,237.2 738.8,242.0 740.8,247.7 743.2,251.7" fill="none" stroke="#10AE50" stroke-width="1.7" stroke-linejoin="round" stroke-linecap="round"/>
<polyline points="423.6,139.3 466.8,139.3 468.5,135.6 481.4,135.6 483.0,130.4 502.4,130.4 504.8,125.5 522.3,125.6 523.9,121.2 534.4,121.2 536.8,115.9 548.9,115.9 550.5,106.7 606.6,106.8 607.4,115.2 613.9,115.7 615.5,124.9 626.8,124.9 628.4,134.6 632.5,135.1 634.1,137.0 635.7,144.3 640.5,145.1 643.0,154.0 648.6,154.0 651.8,156.4 653.5,158.5 662.1,158.5 664.5,160.1 667.0,162.1 671.0,162.9 672.6,172.6 675.5,173.4 677.5,181.5 679.1,183.1 683.9,183.1 685.5,186.3 687.2,191.7 692.3,191.7 693.9,192.8 695.6,196.8 742.4,196.8" fill="none" stroke="#C81C1C" stroke-width="1.7" stroke-linejoin="round" stroke-linecap="round"/>
<polyline points="423.6,140.9 426.5,142.5 428.9,142.5 431.3,139.3 433.7,136.8 436.2,134.4 438.6,132.3 441.0,133.6 443.4,133.3 445.8,135.2 448.3,136.0 450.7,133.6 453.1,132.0 455.5,129.6 458.0,129.6 460.4,126.3 462.8,122.3 465.2,121.5 467.7,123.9 470.1,123.9 472.5,125.5 474.9,123.1 477.4,121.5 479.8,122.3 482.2,123.1 484.6,123.1 487.0,123.1 489.5,124.7 491.1,121.5 493.5,119.9 495.9,118.8 497.5,116.7 500.0,119.9 502.4,119.1 504.8,117.5 507.2,115.8 509.7,115.0 512.1,111.8 514.5,109.4 516.9,108.6 519.8,105.0 522.3,105.8 524.7,104.2 527.1,105.8 529.5,105.8 532.0,105.0 534.4,104.2 536.8,106.7 539.2,109.1 541.7,110.7 543.3,108.3 545.7,103.4 548.1,99.4 550.5,101.0 553.0,105.8 555.4,105.8 557.3,108.3 559.4,106.7 561.8,109.1 564.3,109.9 566.7,111.5 569.1,112.3 571.5,113.1 574.0,112.3 576.4,113.9 578.8,113.9 581.2,115.5 583.7,116.3 586.1,118.0 588.5,118.8 590.9,117.5 593.4,117.2 595.8,118.8 598.2,121.7 600.6,125.2 603.0,128.5 605.5,131.7 607.4,134.9 608.7,143.0 610.6,139.8 612.7,141.1 614.7,138.6 617.1,141.0 619.5,139.4 622.0,143.5 624.4,146.7 627.6,149.1 630.0,150.7 632.5,152.4 634.1,147.5 636.5,149.9 638.9,148.3 641.3,146.7 643.8,150.7 646.2,151.5 648.6,153.2 650.5,152.8 653.2,149.8 656.5,152.2 659.7,154.2 662.9,157.6 665.5,158.6 668.6,161.0 671.8,167.0 674.2,174.0 676.7,176.5 679.1,178.1 682.3,179.9 684.7,181.5 686.8,182.5 688.3,174.8 690.0,169.6 691.5,176.0 693.1,171.2 694.6,169.2 696.8,170.0 699.3,169.7 701.4,169.6 703.0,177.0 704.9,174.0 706.9,170.4 709.3,173.0 711.5,174.0 713.8,173.6 715.4,170.8 717.0,162.7 719.5,159.5 721.6,158.7 723.8,161.5 725.5,165.0 727.5,166.0 730.0,168.8 732.4,169.6 734.3,165.5 737.2,167.6 739.7,170.0 741.3,172.2 742.4,175.0" fill="none" stroke="#C48F68" stroke-width="1.7" stroke-linejoin="round" stroke-linecap="round"/>
<polyline points="423.6,143.3 425.7,144.9 428.1,145.7 430.5,143.3 432.9,140.1 435.3,140.1 437.8,137.7 440.2,139.3 442.6,140.1 445.0,140.9 447.5,142.0 449.9,140.9 452.3,139.8 454.7,139.3 457.2,138.5 459.6,136.0 462.0,133.3 463.9,132.0 466.0,134.4 467.7,132.3 470.1,133.9 472.5,134.4 474.9,132.8 477.4,132.3 479.8,131.7 482.2,132.0 484.6,130.4 487.0,130.4 489.5,132.8 491.1,129.6 493.5,128.0 495.9,126.8 498.4,126.3 500.8,123.9 503.2,121.5 505.6,121.0 508.0,120.7 510.5,119.1 512.1,116.7 514.5,115.8 517.4,114.7 519.8,113.1 522.3,112.3 524.7,113.1 527.1,112.3 529.5,113.1 532.0,112.3 534.4,111.5 536.8,110.7 539.2,112.3 541.7,113.9 544.1,111.5 546.5,108.3 548.9,107.5 550.5,109.1 553.0,111.5 555.4,113.1 557.8,113.1 560.2,113.9 562.7,113.1 565.1,113.9 567.5,113.9 569.9,113.1 572.4,112.0 574.8,112.0 577.2,113.1 579.6,113.1 582.0,113.9 584.5,114.7 586.9,115.5 589.3,117.2 591.7,113.1 594.2,113.1 596.6,113.9 599.0,113.9 601.4,118.8 603.9,123.6 605.5,127.7 607.4,131.7 609.5,135.7 611.9,137.5 614.7,139.4 617.1,140.2 619.5,139.4 622.0,142.7 624.4,146.7 626.8,149.9 629.2,152.4 631.7,155.6 633.8,153.2 635.7,155.6 638.1,157.2 640.5,156.4 643.0,158.0 645.4,159.3 647.8,160.4 650.2,162.0 652.4,160.1 655.7,160.7 658.9,161.5 662.1,162.7 665.3,164.5 668.6,165.0 671.0,168.0 672.6,176.0 675.0,181.5 677.5,184.7 679.9,183.9 682.3,186.3 684.7,188.8 687.2,192.0 689.6,191.2 691.2,188.8 692.3,190.4 693.6,187.5 696.0,188.4 698.5,187.2 700.9,187.5 703.0,192.3 704.9,190.1 707.4,188.0 709.8,188.8 712.2,188.0 714.6,186.3 716.6,181.5 718.7,179.9 721.1,178.3 723.5,179.9 725.9,183.1 729.2,185.5 731.6,186.8 734.0,183.1 737.2,184.7 739.7,186.3 741.3,188.8 742.4,190.1" fill="none" stroke="#14AEEF" stroke-width="1.7" stroke-linejoin="round" stroke-linecap="round"/>
<polyline points="423.6,137.7 424.8,138.5 426.5,141.7 428.9,142.0 431.3,138.5 432.9,135.2 435.3,133.6 437.8,128.8 439.4,129.6 441.8,131.7 444.2,130.7 446.7,133.3 449.1,130.4 451.5,129.6 453.9,125.5 456.3,123.1 458.0,124.7 460.4,120.7 463.6,115.8 465.2,119.1 466.8,115.8 468.5,119.9 470.9,119.9 472.5,121.5 474.9,118.8 477.4,115.8 479.8,116.7 482.2,118.3 484.6,119.1 487.0,119.1 489.5,120.7 491.1,116.7 493.5,115.0 495.9,114.2 497.5,112.6 499.5,116.7 501.6,117.5 504.0,115.0 506.4,113.4 508.9,112.6 510.5,110.2 512.9,107.8 515.3,106.2 517.7,103.7 519.8,101.0 522.3,103.4 524.7,105.8 526.3,104.2 528.7,108.3 531.2,109.1 533.6,110.7 536.0,113.9 538.4,117.2 540.5,118.8 542.5,117.2 544.9,112.3 547.0,107.1 549.7,106.7 552.2,108.3 554.6,111.5 557.0,113.9 558.6,115.5 560.2,113.1 561.8,115.2 564.3,113.9 566.7,115.2 569.1,114.7 571.5,118.8 574.0,120.4 576.4,121.7 578.8,120.4 581.2,118.8 583.7,119.6 586.1,120.1 588.5,122.3 590.9,121.2 593.4,118.8 595.8,120.4 598.2,123.6 600.6,126.8 603.0,129.3 605.5,132.5 607.9,135.7 609.5,131.7 612.3,130.5 614.7,130.2 617.1,132.5 619.5,133.4 621.2,133.0 623.6,136.2 625.2,137.3 627.6,138.9 630.0,137.3 632.1,136.2 634.1,131.3 636.5,129.2 638.9,130.2 640.9,127.3 643.4,125.7 645.7,127.3 647.8,128.1 650.2,130.0 652.2,131.5 653.4,127.2 655.8,128.2 658.2,131.5 661.2,132.5 663.5,133.5 665.9,137.2 668.3,138.0 670.6,139.6 673.0,142.5 675.5,141.2 678.3,143.9 679.9,141.5 682.3,143.9 684.5,146.3 686.7,147.8 688.3,140.9 690.0,134.4 691.6,137.6 692.8,138.3 694.4,131.0 696.0,130.2 698.5,132.6 700.9,131.8 702.5,136.7 704.9,135.8 706.9,133.4 709.0,135.0 711.4,137.5 713.8,137.5 715.9,135.0 717.5,128.6 719.5,127.8 721.9,127.0 724.0,130.2 725.9,131.8 728.4,131.0 730.8,133.4 733.2,131.0 734.8,130.2 737.2,132.6 739.7,133.4 741.3,137.5 742.4,139.1" fill="none" stroke="#000000" stroke-width="1.9" stroke-linejoin="round" stroke-linecap="round"/>
<polyline points="39.6,356.3 40.4,355.2 41.2,354.8 42.0,354.3 42.9,354.3 43.7,354.1 44.5,353.8 45.3,354.1 46.1,355.6 46.9,355.9 47.7,356.9 48.5,358.4 49.3,358.2 50.1,359.2 50.9,357.5 51.7,356.5 52.5,356.7 53.3,358.2 54.1,359.3 55.0,359.6 55.8,360.2 56.6,360.3 57.4,358.5 58.2,358.3 59.0,358.9 59.8,359.3 60.6,358.7 61.4,359.5 62.2,358.8 63.0,358.9 63.9,359.0 64.7,358.6 65.5,358.5 66.3,357.4 67.1,357.6 67.9,356.8 68.7,357.2 69.5,356.8 70.3,355.4 71.1,355.1 71.9,354.8 72.7,355.4 73.5,354.3 74.3,354.1 75.1,352.8 76.0,352.3 76.8,351.4 77.6,349.7 78.4,348.4 79.2,347.9 80.0,347.8 80.8,346.9 81.6,346.2 82.4,345.0 83.2,344.0 84.0,344.8 84.8,345.4 85.7,345.5 86.5,344.8 87.3,343.8 88.1,342.4 88.9,341.6 89.7,340.7 90.5,341.3 91.3,340.8 92.1,340.6 92.9,340.5 93.7,341.8 94.5,342.4 95.4,341.6 96.2,343.0 97.0,342.9 97.8,343.0 98.6,343.6 99.4,343.7 100.2,343.3 101.0,341.7 101.8,342.5 102.6,341.9 103.4,342.9 104.2,343.2 105.1,344.7 105.9,345.6 106.7,346.3 107.5,348.2 108.3,348.6 109.1,348.6 109.9,349.7 110.7,349.3 111.5,350.0 112.3,350.8 113.1,351.6 113.9,351.9 114.7,352.5 115.5,354.4 116.3,354.3 117.2,355.8 118.0,356.4 118.8,356.0 119.6,356.4 120.4,356.8 121.2,356.3 122.0,355.5 122.8,354.8 123.6,354.3 124.4,354.2 125.2,353.1 126.0,352.5 126.9,352.3 127.7,351.2 128.5,350.5 129.3,350.7 130.1,349.4 130.9,348.6 131.7,347.0 132.5,346.6 133.3,346.5 134.2,345.4 135.0,345.9 135.8,345.6 136.6,344.6 137.4,345.1 138.2,345.7 139.0,346.7 139.8,347.1 140.6,347.8 141.5,348.1 142.3,347.5 143.1,346.7 143.9,346.7 144.7,346.3 145.5,345.1 146.3,345.1 147.1,345.0 147.9,344.4 148.7,344.2 149.5,343.9 150.3,343.5 151.2,343.4 152.0,342.5 152.8,343.1 153.6,344.0 154.4,343.5 155.2,344.6 156.0,345.3 156.8,345.2 157.6,344.3 158.4,344.4 159.2,343.0 160.0,342.1 160.9,341.5 161.7,341.1 162.5,338.7 163.3,337.4 164.1,335.0 164.9,333.2 165.7,331.9 166.5,331.7 167.3,332.8 168.1,335.0 168.9,333.8 169.7,332.5 170.5,330.7 171.3,329.1 172.2,331.5 173.0,334.4 173.8,334.4 174.6,335.6 175.4,336.4 176.2,336.4 177.3,341.4 178.6,341.2 179.4,340.2 180.2,339.6 181.0,339.8 181.8,340.3 182.7,342.2 183.5,344.5 184.3,342.2 185.1,340.6 185.9,339.1 186.7,337.5 187.5,336.9 188.3,337.1 189.1,335.6 189.9,335.1 190.7,336.0 191.5,335.7 192.3,335.1 193.2,333.7 194.0,333.7 194.8,334.4 195.6,334.1 196.4,335.5 197.2,336.8 198.0,337.8 198.8,339.2 199.6,340.5 200.4,339.8 201.2,338.8 202.1,338.2 202.9,338.5 203.7,339.8 204.5,342.1 205.3,341.6 206.1,343.3 206.9,343.6 207.7,343.3 208.5,342.7 209.3,342.2 210.1,342.1 210.9,341.6 211.7,342.8 212.5,342.7 213.4,343.5 214.2,344.6 215.0,344.9 215.8,345.2 216.6,346.3 217.4,346.6 218.2,347.1 219.0,347.8 219.8,349.1 220.6,349.1 221.4,350.1 222.2,350.0 223.1,350.4 223.9,351.3 224.7,352.3 225.5,352.0 226.3,353.4 227.1,352.7 227.9,351.7 228.7,350.9 230.0,350.7 230.8,352.0 231.6,352.9 232.4,352.4 233.2,353.0 234.0,353.2 234.8,353.8 235.6,353.2 236.5,352.7 237.3,352.6 238.1,350.9 238.9,350.3 239.7,349.7 240.5,349.5 241.3,349.3 242.1,350.3 242.9,350.0 243.7,348.8 244.5,349.2 245.3,349.1 246.2,349.3 247.0,349.5 247.8,350.3 248.6,350.6 249.4,350.7 250.2,350.4 251.0,350.4 251.8,350.0 252.6,350.8 253.4,351.3 254.2,351.1 255.0,351.2 255.9,351.7 256.7,352.3 257.5,353.3 258.3,354.3 259.1,354.4 259.9,354.6 260.7,354.0 261.5,353.3 262.3,352.7 263.1,352.3 263.9,352.1 264.7,351.9 265.5,352.5 266.3,352.4 267.1,352.5 268.0,353.1 268.8,353.7 269.6,353.5 270.4,354.6 271.2,355.3 272.0,356.4 272.8,357.0 273.6,356.8 274.4,358.0 275.2,358.2 276.0,358.0 276.8,358.9 277.7,359.1 278.5,360.6 279.3,360.9 280.1,361.8 280.9,362.2 281.7,362.5 282.5,363.0 283.3,363.2 284.1,363.3 284.9,364.5 285.7,364.5 286.5,364.0 287.4,364.1 288.2,362.5 289.0,362.7 289.8,362.8 290.6,364.0 291.4,363.6 292.2,363.9 293.0,365.5 293.8,364.3 294.6,365.0 295.4,364.5 296.2,365.5 297.1,366.5 297.9,366.8 298.7,368.2 299.5,368.2 300.3,370.2 301.1,369.6 301.9,369.6 302.7,368.6 303.5,370.0 304.3,370.7 305.1,370.1 305.9,370.2 306.7,370.2 307.5,370.3 308.3,370.1 309.2,370.6 310.0,371.2 311.0,371.2 311.9,370.9 312.9,370.0 313.7,369.5 314.5,369.2 315.4,368.7 316.2,368.4 317.0,367.2 317.8,366.9 318.6,366.7 319.4,366.8 320.2,368.0 321.0,368.1 321.8,367.9 322.6,367.2 323.4,366.3 324.2,367.5 325.1,368.7 325.9,370.3 326.7,371.1 327.5,370.7 328.3,371.2 329.1,372.6 329.9,373.3 330.7,373.3 331.5,372.2 332.3,371.5 333.1,369.7 333.9,368.7 334.8,367.6 335.6,367.0 336.4,365.3 337.2,363.8 338.0,363.0 338.8,361.8 339.6,359.3 340.4,358.3 341.2,356.4 342.0,355.5 342.8,353.7 343.6,354.2 344.5,355.1 345.3,355.8 346.2,356.9 347.2,357.3 348.5,350.3 349.3,350.1 350.1,349.7 350.9,351.1 351.7,351.0 352.5,352.9 353.3,352.5 354.2,353.0 355.0,353.1 355.8,354.4 356.6,355.2 357.6,354.4 358.5,353.9 359.6,352.6 360.6,351.2 361.5,349.0 362.5,347.8 363.4,345.9" fill="none" stroke="#2F76C4" stroke-width="1.9" stroke-linejoin="round" stroke-linecap="round"/>
<polyline points="39.6,344.2 40.4,349.6 41.2,349.8 42.0,350.6 42.9,349.5 43.7,348.5 44.5,349.4 45.3,350.4 46.1,352.4 46.9,354.5 47.7,352.9 48.5,352.3 49.3,351.5 50.1,350.8 50.9,350.2 51.7,349.7 52.5,350.0 53.3,349.2 54.1,348.5 55.0,347.8 55.8,346.3 56.6,347.3 57.4,348.5 58.2,347.8 59.0,347.1 59.8,346.3 60.6,345.9 61.4,347.3 62.2,348.0 63.0,348.5 63.9,348.8 64.7,349.9 65.5,348.6 66.3,348.9 67.1,348.0 67.9,347.1 68.7,346.4 69.5,346.7 70.3,346.7 71.1,347.6 71.9,346.1 72.7,344.2 73.8,345.9 74.8,347.9 75.8,348.0 76.8,347.9 77.6,350.0 78.4,352.7 79.2,351.4 80.0,351.2 80.8,351.7 81.6,351.4 82.4,351.9 83.2,352.0 84.0,350.7 84.8,350.5 85.7,351.1 86.5,353.0 87.3,352.4 88.1,352.7 88.9,352.0 89.7,352.6 90.5,353.7 91.3,353.7 92.1,353.7 92.9,353.9 93.7,352.6 94.5,352.8 95.4,353.3 96.2,354.2 97.0,354.6 97.8,354.6 98.6,355.3 99.4,357.1 100.2,359.5 101.2,360.9 102.3,363.6 103.2,364.0 104.2,364.2 105.0,362.8 105.9,362.1 106.7,359.8 107.5,359.6 108.3,359.9 109.1,359.2 109.9,359.2 110.7,360.4 111.5,360.6 112.3,359.2 113.1,356.9 113.9,356.5 114.7,356.5 115.5,355.8 116.3,356.5 117.2,357.7 118.0,357.3 118.8,356.5 119.6,356.1 120.4,355.9 121.2,357.2 122.0,357.3 122.8,357.7 123.6,357.7 124.4,359.2 125.2,358.7 126.0,358.9 126.9,359.1 127.7,359.5 128.5,360.0 129.3,361.1 130.1,360.7 130.9,361.0 131.7,361.9 132.5,362.0 133.3,362.8 134.1,361.6 134.9,362.0 135.7,364.0 136.5,365.1 137.3,366.4 138.2,366.3 139.0,366.6 139.8,367.4 140.6,366.5 141.5,366.7 142.3,366.1 143.1,367.0 143.9,367.0 144.7,366.7 145.5,365.3 146.3,364.8 147.1,364.0 147.9,364.2 148.7,364.5 149.5,365.6 150.3,365.2 151.2,365.6 152.0,367.3 152.8,366.8 153.6,367.3 154.4,366.6 155.2,367.8 156.0,368.0 156.8,368.7 157.6,368.9 158.4,368.8 159.2,368.6 160.0,369.3 160.9,370.7 161.7,371.2 162.5,371.8 163.3,371.6 164.1,372.6 164.9,373.8 165.7,374.7 166.5,374.3 167.3,373.2 168.1,374.1 168.9,374.7 169.7,373.3 170.5,373.3 171.3,372.7 172.2,370.8 173.0,371.3 173.8,370.8 174.6,369.9 175.4,368.5 176.4,368.8 177.3,367.0 178.4,369.7 179.4,370.9 180.2,370.4 181.0,370.8 181.8,371.7 182.6,371.6 183.5,371.8 184.3,372.1 185.1,371.4 185.9,371.5 186.7,372.9 187.5,372.0 188.3,373.4 189.1,372.7 189.9,373.9 190.7,374.1 191.5,374.5 192.3,374.4 193.2,375.2 194.0,374.7 194.8,375.5 195.6,375.2 196.4,376.1 197.2,375.2 198.0,374.0 198.8,373.2 199.6,372.3 200.4,372.1 201.2,372.5 202.0,372.5 202.9,373.1 203.7,372.9 204.5,371.9 205.3,371.8 206.1,371.8 206.9,370.7 207.7,369.3 208.5,369.5 209.3,368.5 210.1,366.4 210.9,366.0 211.7,364.7 212.6,364.1 213.4,362.5 214.5,358.0 215.6,358.8 216.6,360.0 217.4,359.1 218.2,359.4 219.0,360.4 219.8,360.2 220.6,359.1 221.4,358.5 222.4,361.3 223.5,363.5 224.5,361.5 225.5,361.5 226.3,359.8 227.1,359.1 227.9,359.0 228.7,358.1 229.5,358.1 230.3,356.9 231.4,357.8 232.4,356.9 233.2,356.8 234.0,357.3 234.8,357.1 235.6,357.5 236.5,358.2 237.3,358.1 238.1,358.4 238.9,360.0 239.7,361.1 240.5,361.8 241.3,363.0 242.1,362.9 242.9,362.7 243.7,363.2 244.5,364.8 245.3,364.9 246.2,368.6 247.0,372.1 247.8,371.4 248.6,371.2 249.4,370.8 250.2,370.2 251.0,370.7 251.8,369.9 252.6,371.0 253.4,370.7 254.2,372.0 255.0,371.9 255.9,371.6 256.7,371.4 257.5,371.2 258.3,372.1 259.1,371.7 259.9,372.3 260.7,371.8 261.5,371.9 262.3,372.7 263.1,374.4 263.9,374.4 264.7,376.1 265.5,376.2 266.3,377.3 267.4,377.8 268.4,379.0 269.4,377.5 270.4,377.1 271.2,377.2 272.0,375.7 272.8,375.8 273.6,375.1 274.4,374.8 275.2,374.2 276.0,373.6 276.9,374.3 277.7,373.6 278.5,372.8 279.3,371.9 280.1,371.3 280.9,368.7 281.7,367.6 282.5,364.2 283.3,361.1 284.1,361.0 284.9,360.3 285.7,360.0 286.5,361.4 287.4,364.5 288.2,365.3 289.0,366.2 289.8,366.9 290.6,367.1 291.4,366.4 292.2,367.3 293.0,364.9 293.8,363.6 294.6,362.3 295.4,362.9 296.2,363.3 297.0,364.2 297.9,365.4 298.7,366.9 299.5,370.2 300.3,372.9 301.1,371.4 301.9,370.6 302.7,370.3 303.7,368.9 304.7,368.3 305.7,367.1 306.5,367.8 307.3,368.8 308.1,369.6 308.9,368.6 309.7,367.5 310.5,367.5 311.3,368.4 312.1,369.1 312.9,370.3 313.7,370.7 314.6,369.9 315.4,369.0 316.2,368.1 317.0,367.2 317.8,366.4 318.6,366.1 319.4,365.5 320.2,365.9 321.0,366.1 321.8,366.2 322.6,365.6 323.4,363.9 324.2,362.1 325.5,369.9 326.4,368.9 327.4,369.7 328.3,369.5 329.1,370.2 329.9,371.5 330.7,371.4 331.5,372.3 332.3,372.3 333.1,372.8 333.9,372.4 334.8,372.5 335.6,372.0 336.4,372.2 337.2,373.7 338.0,373.0 338.8,374.1 339.6,374.2 340.4,374.5 341.2,374.9 342.0,375.9 342.8,376.3 343.6,375.4 344.5,374.5 345.3,374.0 346.1,374.2 346.9,374.1 347.7,374.2 348.5,374.3 349.3,375.7 350.1,375.8 350.9,375.0 351.7,374.8 352.5,375.5 353.3,374.9 354.2,375.4 355.0,376.0 355.8,376.0 356.6,375.0 357.4,374.9 358.2,374.6 359.0,373.9 359.8,374.7 360.6,372.7 361.4,373.1 362.2,371.2 363.4,371.4" fill="none" stroke="#F7BC1E" stroke-width="1.9" stroke-linejoin="round" stroke-linecap="round"/>
<polyline points="425.6,338.9 426.4,338.4 427.2,337.9 428.0,337.6 428.8,337.4 429.6,338.3 430.5,339.7 431.3,338.4 432.1,338.9 432.9,340.0 433.7,340.2 434.5,340.0 435.3,338.4 436.1,339.0 436.9,338.9 437.7,339.4 438.5,339.6 439.3,339.0 440.1,339.0 441.0,338.8 441.8,339.4 442.8,337.1 443.7,334.3 444.5,337.3 445.3,338.7 446.4,340.6 447.4,341.2 448.2,341.9 449.0,343.8 449.8,343.7 450.6,342.6 451.5,342.5 452.3,341.3 453.1,340.8 453.9,342.0 454.7,341.8 455.5,341.5 456.3,340.4 457.1,340.4 457.9,339.1 458.7,342.5 459.5,345.4 460.3,345.7 461.2,346.9 462.0,347.7 462.8,349.1 463.6,350.5 464.4,352.2 465.4,354.5 466.3,355.6 467.4,356.2 468.4,355.5 469.2,354.8 470.0,354.8 470.8,353.8 471.6,354.0 472.5,354.6 473.3,355.7 474.1,355.6 474.9,357.6 475.7,357.6 476.5,359.7 477.3,359.6 478.1,358.2 478.9,359.0 479.7,357.9 480.6,357.6 481.4,356.4 482.2,355.8 483.0,355.3 483.8,355.7 484.6,356.5 485.4,358.9 486.2,359.4 487.0,359.7 487.8,359.2 488.6,358.7 489.4,358.4 490.2,358.2 491.0,357.3 491.9,358.1 492.7,358.2 493.8,344.6 495.1,327.3 496.4,316.1 497.4,316.3 498.3,318.0 499.1,321.6 499.9,325.2 500.7,326.9 501.5,330.1 502.4,332.8 503.2,335.8 504.0,335.2 504.8,334.5 505.6,333.9 506.4,333.1 507.2,333.0 508.0,333.0 508.8,331.6 509.6,335.7 510.4,341.2 511.2,344.9 512.0,344.0 512.9,343.0 513.7,342.6 514.5,341.8 515.3,340.2 516.1,339.1 516.9,337.4 517.7,336.8" fill="none" stroke="#F7BC1E" stroke-width="1.9" stroke-linejoin="round" stroke-linecap="round"/>
<polyline points="519.3,343.3 520.1,342.9 520.9,340.8 521.7,340.5 522.7,340.5 523.8,339.2 524.8,339.5 526.1,342.3 527.3,324.1 528.1,325.9 528.9,326.6 529.7,327.8 530.5,328.2 531.3,331.2 532.1,332.5 532.9,335.1 533.7,338.2 534.5,337.7 535.3,337.4 536.1,337.9 537.0,339.2 537.8,339.1 538.6,338.4 539.4,341.4 540.2,344.8 541.0,343.5 541.8,342.9 542.6,342.7 543.4,343.1 544.2,343.1 545.0,343.3 545.8,343.4 546.7,343.3 547.5,343.8 548.3,344.7 549.1,345.1 549.9,344.7 550.7,346.1 551.5,346.9 552.3,347.6 553.1,347.8 553.9,348.2 554.7,347.9 555.8,346.4 556.8,343.8 557.8,340.8 558.8,338.0 559.6,338.1 560.4,337.9 561.2,339.0 562.2,339.0 563.3,339.3 564.2,339.4 565.2,340.9 566.0,341.0 566.9,342.2 567.7,342.5 568.5,343.3 569.3,343.6 570.1,344.2 570.9,344.5 571.7,345.8 572.5,346.8 573.3,347.2 574.1,346.8 574.9,347.7 575.7,347.7 576.6,347.3 577.4,347.6 578.2,347.7 579.0,347.2 579.8,347.3 580.6,346.6 581.4,347.2 582.2,347.1 583.0,347.3 583.8,348.3 584.6,349.2 585.4,348.9 586.2,347.9 587.0,348.5 587.8,348.5 588.7,348.8 589.5,348.8 590.3,349.3 591.1,349.8 591.9,349.9 592.7,351.6 593.5,352.4 594.3,352.6 595.1,352.9 595.9,353.2 596.7,352.4 597.6,352.7 598.4,352.4 599.2,351.3 600.0,351.6 600.8,350.9 601.6,349.9 602.4,349.2 603.2,348.7 604.0,348.6 604.8,348.7 605.6,348.6 606.4,349.3 607.2,349.4 608.0,349.8 608.8,350.7 609.7,351.0 610.5,352.7 611.3,352.0 612.1,352.9 612.9,353.1 614.0,353.1 615.0,352.5 615.8,353.4 616.6,352.8 617.4,352.4 618.2,353.7 619.0,353.5 619.8,354.7 620.6,355.3 621.5,356.5 622.3,357.9 623.1,356.5 623.9,354.9 624.7,354.2 625.5,352.3 626.3,350.3 627.1,349.2 627.9,349.0 628.7,351.4 629.5,354.4 630.3,354.7 631.2,354.5 632.0,354.4 633.0,356.7 634.1,357.2 635.0,356.5 636.0,356.3 636.8,355.5 637.6,354.1 638.4,354.0 639.2,354.0 640.0,353.1 640.8,352.9 641.6,352.1 642.5,351.6 643.3,351.9 644.1,349.1 644.9,347.9 645.7,339.7 646.5,342.2 647.3,344.6 648.1,348.7 648.9,351.3 649.7,350.4 650.5,349.5 651.3,349.5 652.1,348.6 653.0,348.1 653.8,348.1 654.6,348.7 655.4,350.4 656.2,351.2 657.0,351.0 657.8,351.7 658.6,351.7 659.4,350.1 660.2,350.3 661.0,349.4 661.8,350.8 662.7,351.1 663.5,351.0 664.3,350.5 665.1,349.8 665.9,350.3 666.7,347.4 667.5,345.8 668.3,345.9 669.1,346.4 669.9,346.6 670.7,347.6 671.6,347.6 672.4,349.2 673.2,348.2 674.0,348.1 675.1,336.6 676.2,336.1 677.2,336.0 678.0,336.2 678.8,336.4 679.6,337.1 680.4,337.7 681.2,337.8 682.0,338.9 682.9,341.6 683.7,344.6 684.5,344.6 685.3,344.2 686.1,343.5 686.9,344.2 687.7,343.5 688.5,343.4 689.2,343.7 690.0,343.8 690.8,345.2 691.6,347.4 692.4,347.0 693.2,347.3 694.0,348.2 694.8,346.8 695.7,346.4 696.5,346.5 697.3,345.5 698.1,346.5 698.9,346.4 699.7,345.5 700.5,344.8 701.3,344.9 702.1,344.7 702.9,343.4 703.7,343.6 704.5,342.3 705.4,340.9 706.2,339.4 707.0,340.2 707.8,341.8 708.6,343.2 709.4,341.4 710.2,340.8 711.0,331.9 711.8,331.1 712.6,330.1 713.4,330.5 714.2,332.6 715.0,334.6 715.9,336.2 716.7,335.6 717.5,334.5 718.3,335.2 719.1,335.0 719.9,336.1 720.7,337.0 721.5,335.0 722.3,332.7 723.1,331.2 723.9,331.5 724.8,330.0 725.6,330.0 726.4,330.6 727.2,331.1 728.0,332.5 728.8,329.7 729.6,327.8 730.4,327.1 731.2,325.6 732.0,324.5 732.8,325.5 733.7,325.9 734.5,326.4 735.3,324.6 736.1,324.1 736.9,323.2 737.7,321.5 738.5,319.4 739.3,318.0 740.1,315.2 740.9,315.2 741.7,316.5 742.5,317.7 743.3,320.2" fill="none" stroke="#F7BC1E" stroke-width="1.9" stroke-linejoin="round" stroke-linecap="round"/>
<polyline points="425.6,370.7 426.4,370.8 427.2,370.6 428.0,369.9 428.8,369.3 429.7,368.7 430.5,369.3 431.3,368.5 432.1,368.4 432.9,367.3 433.7,367.7 434.5,366.9 435.3,367.4 436.1,366.8 436.9,365.8 437.7,365.4 438.5,364.9 439.4,363.5 440.2,363.2 441.1,362.7 442.1,361.2 443.1,363.3 444.2,364.5 445.0,364.2 445.8,363.0 446.6,362.2 447.4,362.7 448.2,362.3 449.0,361.4 449.8,361.2 450.7,361.6 451.5,362.4 452.3,361.5 453.1,362.0 453.9,361.1 454.7,360.5 455.5,360.9 456.3,360.4 457.2,362.0 458.2,362.7 459.2,361.4 460.3,360.8 461.1,360.5 462.0,360.2 462.8,360.0 463.6,358.3 464.4,358.2 465.2,357.9 466.0,357.4 466.8,357.6 467.6,356.8 468.4,358.0 469.2,357.7 470.0,357.3 470.8,357.5 471.7,356.5 472.5,355.8 473.4,355.6 474.4,354.6 475.4,355.8 476.5,357.8 477.3,359.1 478.1,359.7 478.9,362.2 479.7,361.1 480.6,361.4 481.4,362.0 482.2,361.5 483.0,360.9 483.8,360.8 484.6,361.0 485.4,360.8 486.2,362.1 487.0,360.8 487.8,361.1 488.6,361.3 489.4,361.3 490.2,362.4 491.0,361.9 491.8,363.0 492.7,363.0 493.5,362.9 494.3,363.5 495.1,363.2 495.9,363.9 496.7,364.5 497.5,364.8 498.3,365.4 499.1,365.0 499.9,364.0 500.7,363.0 501.5,363.6 502.4,362.7 503.2,362.7 504.0,362.5 504.8,361.1 505.6,360.4 506.4,360.2 507.2,360.6 508.0,360.0 508.8,359.3 509.6,359.1 510.4,359.2 511.2,358.5 512.1,359.0 512.9,359.9 513.7,359.3 514.5,358.6 515.3,358.6 516.1,358.8 516.9,358.7 517.7,359.2 518.5,359.4 519.3,360.3 520.1,360.0 520.9,359.9 521.6,359.7 522.4,359.2 523.2,357.6 524.0,357.1 524.8,356.0 525.6,355.8 526.5,355.7 527.3,355.8 528.1,355.7 528.9,354.6 529.7,354.0 530.5,354.0 531.3,353.0 532.1,352.4 532.9,353.5 533.7,352.8 534.5,353.7 535.3,353.5 536.2,354.4 537.0,354.6 537.8,353.2 538.6,353.0 539.4,353.6 540.2,353.3 541.0,353.2 541.8,353.8 542.6,353.4 543.4,352.6 544.2,352.2 545.2,349.6 546.2,347.9 547.2,346.0 548.3,345.1 549.1,345.3 549.9,345.0 550.7,345.9 551.5,344.6 552.3,344.1 553.1,344.3 553.9,345.4 554.7,347.3 555.5,348.3 556.3,349.6 557.2,350.1 558.0,352.2 558.8,351.4 559.6,352.2 560.4,352.7 561.2,352.2 562.0,351.6 562.8,350.4 563.6,350.9 564.4,351.1 565.2,350.4 566.0,350.8 566.9,350.1 567.7,348.8 568.5,349.0 569.3,348.3 570.1,347.8 570.9,347.6 571.7,345.9 572.5,346.1 573.3,346.1 574.1,344.9 574.9,345.5 575.7,344.1 576.6,344.8 577.4,343.8 578.2,344.2 579.0,342.9 579.8,343.0 580.6,339.8 581.4,337.9 582.2,338.3 583.0,337.5 583.8,336.8 584.6,337.8 585.4,339.6 586.2,339.6 587.1,338.9 587.9,339.8 588.7,338.5 589.5,337.7 590.3,336.3 591.1,335.3 591.9,334.4 592.7,334.7 593.5,335.0 594.3,336.6 595.1,337.6 595.9,337.1 596.7,336.0 597.5,335.4 598.3,335.5 599.2,334.3 600.0,334.4 600.8,335.0 601.6,336.2 602.4,337.1 603.2,338.5 604.0,339.1 604.8,339.6 605.6,340.5 606.4,341.7 607.2,343.0 608.0,343.7 608.9,344.7 609.7,346.3 610.5,346.7 611.3,347.7 612.1,348.5 612.9,347.4 613.7,346.1 614.5,345.5 615.5,345.0 616.4,344.6 617.4,344.0 618.2,344.5 619.0,343.6 619.8,343.5 620.6,343.3 621.5,343.0 622.3,342.9 623.1,342.8 623.9,343.6 624.7,344.4 625.5,342.7 626.3,342.6 627.1,341.6 627.9,339.8 628.7,338.4 629.5,337.9 630.3,336.6 631.2,336.8 632.0,335.5 632.8,336.6 633.6,337.0 634.4,338.5 635.2,338.5 636.0,337.5 636.8,337.7 637.6,338.7 638.4,338.4 639.2,339.2 640.0,339.0 640.9,338.6 641.7,337.2 642.5,337.5 643.3,336.6 644.1,336.3 644.9,336.6 645.7,334.6 646.5,334.9 647.3,334.2 648.1,333.6 648.9,333.1 649.7,333.1 650.5,332.7 651.3,333.0 652.1,332.3 653.0,332.8 653.8,332.4 654.8,331.8 655.7,330.5 656.7,330.4 657.7,331.2 658.6,333.2 659.4,333.9 660.2,335.0 661.0,335.5 661.8,336.0 662.7,336.6 663.5,336.3 664.3,337.2 665.1,336.7 665.9,337.4 666.7,337.9 667.5,339.8 668.3,339.4 669.1,341.1 669.9,341.7 670.7,341.6 671.5,341.3 672.4,339.5 673.2,338.7 674.0,339.9 674.8,341.4 675.6,342.7 676.4,343.2 677.2,341.7 678.0,341.8 678.8,341.1 679.6,340.6 680.4,340.7 681.2,340.7 682.1,342.0 682.9,341.5 683.7,341.0 684.5,340.1 685.3,339.4 686.1,338.9 686.9,338.4 687.7,337.9 688.5,338.4 689.3,336.9 690.1,336.7 690.9,337.1 691.6,336.6 692.4,337.0 693.2,337.3 694.0,337.5 694.8,337.5 695.6,338.3 696.5,338.3 697.3,339.0 698.1,337.5 698.9,336.7 699.7,335.6 700.5,334.0 701.3,335.6 702.1,336.9 702.9,335.6 703.7,336.1 704.5,335.7 705.3,335.3 706.2,334.2 707.0,333.7 707.8,332.5 708.6,331.8 709.4,331.5 710.2,331.3 711.0,331.2 711.8,332.0 712.6,332.0 713.4,333.0 714.2,333.4 715.0,333.1 715.9,331.5 716.7,331.3 717.5,331.8 718.3,333.6 719.1,334.3 719.9,334.2 720.7,335.1 721.5,334.8 722.3,334.6 723.1,333.7 723.9,332.9 724.7,334.0 725.6,334.1 726.4,334.0 727.2,334.9 728.0,335.2 728.8,336.0 729.6,335.8 730.4,336.7 731.2,337.5 732.0,338.9 732.8,339.9 733.6,340.0 734.4,340.1 735.3,339.4 736.1,339.8 736.9,340.8 737.7,340.7 738.5,342.6 739.3,342.9 740.1,342.8 740.9,343.8 741.7,344.3 742.5,345.7 743.3,346.1" fill="none" stroke="#2F76C4" stroke-width="1.9" stroke-linejoin="round" stroke-linecap="round"/>
<rect x="285.5" y="86" width="61" height="306.5" fill="rgba(178,178,178,0.39)"/>
<rect x="632.7" y="86.3" width="60.3" height="306.1" fill="rgba(178,178,178,0.39)"/>
</svg>
</body></html>
